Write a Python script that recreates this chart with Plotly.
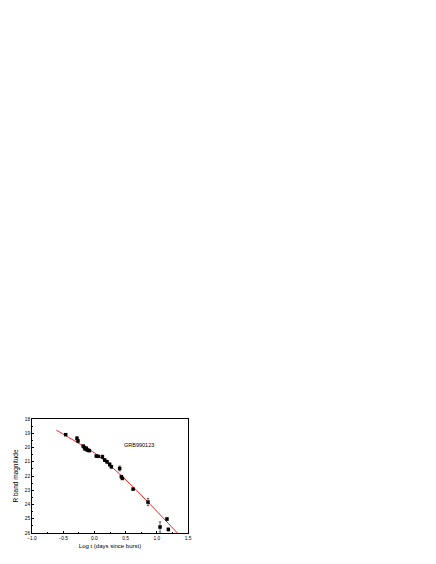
import plotly.graph_objects as go

# afterglow photometry of GRB990123
log_t = [-0.46, -0.279, -0.263, -0.18, -0.16, -0.15, -0.13, -0.12, -0.10, -0.08,
         0.03, 0.06, 0.128, 0.165, 0.202, 0.245, 0.272, 0.405, 0.432, 0.449,
         0.62, 0.859, 1.052, 1.163, 1.185]
r_mag = [19.10, 19.36, 19.54, 19.90, 20.00, 20.10, 20.05, 20.15, 20.20, 20.22,
         20.60, 20.62, 20.65, 20.88, 21.00, 21.19, 21.35, 21.47, 22.05, 22.17,
         22.92, 23.83, 25.58, 25.02, 25.75]
r_err = [0.05, 0.12, 0.08, 0.06, 0.05, 0.06, 0.05, 0.05, 0.05, 0.05,
         0.05, 0.05, 0.12, 0.10, 0.10, 0.12, 0.10, 0.17, 0.10, 0.08,
         0.05, 0.25, 0.36, 0.08, 0.10]

# fitted model curve
fit_t = [-0.61, -0.3, 0.0, 0.3, 0.6, 0.9, 1.33]
fit_mag = [18.78, 19.58, 20.38, 21.45, 22.68, 24.02, 26.0]

font = "Arial, Liberation Sans, sans-serif"

fig = go.Figure()
fig.add_trace(go.Scatter(x=fit_t, y=fit_mag, mode="lines",
                         line=dict(color="#ff2020", width=1, shape="spline"),
                         showlegend=False))
fig.add_trace(go.Scatter(x=log_t, y=r_mag, mode="markers",
                         marker=dict(symbol="square", size=3.5, color="black"),
                         error_y=dict(type="data", array=r_err, color="black",
                                      thickness=0.6, width=1.2),
                         showlegend=False))

fig.add_annotation(x=0.71, y=19.8, text="GRB990123", showarrow=False,
                   font=dict(family=font, size=5.5, color="black"))

axis_common = dict(showline=True, linecolor="black", linewidth=0.8, mirror=True,
                   showgrid=False, zeroline=False, ticks="inside", ticklen=2,
                   tickwidth=0.6, tickcolor="black", automargin=False,
                   tickfont=dict(family=font, size=4.8, color="black"))

fig.update_xaxes(range=[-1.0, 1.5], dtick=0.5, tickformat=".1f",
                 minor=dict(ticks="inside", ticklen=1, dtick=0.25, tickcolor="black"),
                 title=dict(text="Log t (days since burst)", standoff=4,
                            font=dict(family=font, size=6, color="black")),
                 **axis_common)
fig.update_yaxes(range=[26, 18], dtick=1,
                 minor=dict(ticks="inside", ticklen=1, dtick=0.5, tickcolor="black"),
                 title=dict(text="R band magnitude", standoff=5,
                            font=dict(family=font, size=6.5, color="black")),
                 **axis_common)

# page body adds an 8px offset, so the figure is drawn 8px smaller
fig.update_layout(width=428, height=556, autosize=False,
                  margin=dict(l=24, r=248, t=411, b=30.5),
                  plot_bgcolor="white", paper_bgcolor="white")

fig.write_html("out.html")
